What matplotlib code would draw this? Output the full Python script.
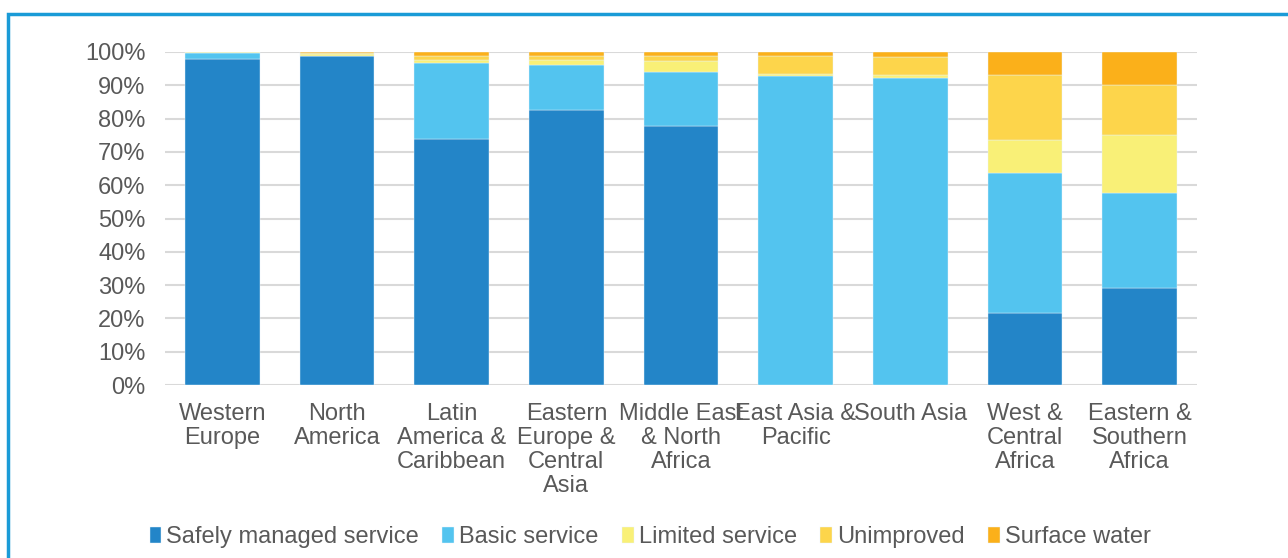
import numpy as np
import matplotlib.pyplot as plt
from matplotlib.patches import Rectangle

plt.rcParams['font.family'] = ['Liberation Sans', 'DejaVu Sans']

regions = ['Western\nEurope', 'North\nAmerica', 'Latin\nAmerica &\nCaribbean',
           'Eastern\nEurope &\nCentral\nAsia', 'Middle East\n& North\nAfrica',
           'East Asia &\nPacific', 'South Asia', 'West &\nCentral\nAfrica',
           'Eastern &\nSouthern\nAfrica']

# shares in %
safely = [98.0, 98.9, 74.0, 82.6, 77.7, 0.0, 0.0, 21.5, 29.0]
basic = [1.7, 0.0, 22.7, 13.5, 16.4, 92.8, 92.3, 42.2, 28.7]
limited = [0.2, 0.4, 1.0, 1.5, 3.3, 0.7, 0.8, 10.0, 17.5]
unimproved = [0.1, 0.5, 1.2, 1.2, 1.5, 5.4, 5.5, 19.3, 14.9]
surface = [0.0, 0.2, 1.1, 1.2, 1.1, 1.1, 1.4, 7.0, 9.9]

series = ['Safely managed service', 'Basic service', 'Limited service',
          'Unimproved', 'Surface water']
colors = ['#2385c8', '#53c4ef', '#f9f077', '#fdd54b', '#fbb01a']

fig = plt.figure(figsize=(12.88, 5.58), dpi=100)
ax = fig.add_axes([165/1288, 1-385/558, (1197-165)/1288, (385-52)/558])

x = np.arange(len(regions))
bottom = np.zeros(len(regions))
for name, vals, c in zip(series, [safely, basic, limited, unimproved, surface], colors):
    vals = np.array(vals)
    ax.bar(x, vals, 0.65, bottom=bottom, color=c, label=name,
           edgecolor='#e8f4fb', linewidth=0.3, zorder=3)
    bottom += vals

ax.set_xlim(-0.5, len(regions)-0.5)
ax.set_ylim(0, 100)
ax.set_yticks(np.arange(0, 101, 10))
ax.set_yticklabels([f'{v}%' for v in range(0, 101, 10)])
ax.set_xticks(x)
ax.set_xticklabels(regions, linespacing=1.12)
ax.tick_params(length=0, labelsize=17, colors='#595959', pad=13)
ax.tick_params(axis='y', pad=14)
ax.grid(axis='y', color='#d9d9d9', linewidth=1.5, zorder=0)
for s in ax.spines.values():
    s.set_visible(False)

fig.legend(loc='center', bbox_to_anchor=(650/1288, 1-537/558), ncol=5,
           frameon=False, fontsize=17, labelcolor='#595959',
           handlelength=0.5, handleheight=0.65, handletextpad=0.2,
           columnspacing=1.0)

fig.patches.append(Rectangle((8/1288, -0.1), 1.2, 1-14/558+0.1,
                             transform=fig.transFigure, fill=False,
                             edgecolor='#1a9bd7', linewidth=2.5))

fig.savefig('out.png', dpi=100)
